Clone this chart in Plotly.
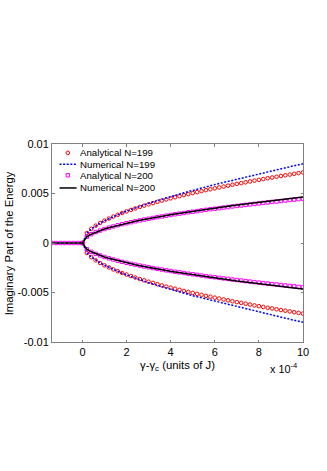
import plotly.graph_objects as go

# gamma - gamma_c in units of 1e-4 J
x_neg = [-1.4, -1.2, -1.0, -0.8, -0.6, -0.4, -0.2]
x_pos = [0.0, 0.2, 0.4, 0.6, 0.8, 1.0, 1.2, 1.4, 1.6, 1.8,
         2.0, 2.2, 2.4, 2.6, 2.8, 3.0, 3.2, 3.4, 3.6, 3.8,
         4.0, 4.2, 4.4, 4.6, 4.8, 5.0, 5.2, 5.4, 5.6, 5.8,
         6.0, 6.2, 6.4, 6.6, 6.8, 7.0, 7.2, 7.4, 7.6, 7.8,
         8.0, 8.2, 8.4, 8.6, 8.8, 9.0, 9.2, 9.4, 9.6, 9.8, 10.0]

# upper branch (units of 1e-3); lower branch is the mirror image
ana_199 = [0.00, 1.01, 1.43, 1.75, 2.02, 2.26, 2.47, 2.67, 2.85, 3.03,
           3.19, 3.34, 3.49, 3.64, 3.77, 3.91, 4.03, 4.16, 4.28, 4.40,
           4.51, 4.62, 4.73, 4.84, 4.94, 5.04, 5.14, 5.24, 5.34, 5.43,
           5.52, 5.61, 5.70, 5.79, 5.88, 5.97, 6.05, 6.13, 6.22, 6.30,
           6.38, 6.46, 6.54, 6.61, 6.69, 6.77, 6.84, 6.91, 6.99, 7.06, 7.13]
num_199 = [0.00, 0.99, 1.41, 1.73, 2.00, 2.25, 2.47, 2.67, 2.87, 3.05,
           3.22, 3.39, 3.55, 3.71, 3.86, 4.01, 4.15, 4.29, 4.43, 4.56,
           4.69, 4.82, 4.95, 5.07, 5.19, 5.32, 5.43, 5.55, 5.67, 5.78,
           5.90, 6.01, 6.12, 6.23, 6.34, 6.45, 6.56, 6.67, 6.78, 6.88,
           6.99, 7.09, 7.19, 7.30, 7.40, 7.50, 7.60, 7.70, 7.80, 7.90, 8.00]
ana_200 = [0.00, 0.63, 0.89, 1.10, 1.26, 1.41, 1.55, 1.67, 1.79, 1.90,
           2.00, 2.10, 2.19, 2.28, 2.37, 2.45, 2.53, 2.61, 2.68, 2.76,
           2.83, 2.90, 2.97, 3.03, 3.10, 3.16, 3.22, 3.29, 3.35, 3.41,
           3.46, 3.52, 3.58, 3.63, 3.69, 3.74, 3.79, 3.85, 3.90, 3.95,
           4.00, 4.05, 4.10, 4.15, 4.19, 4.24, 4.29, 4.34, 4.38, 4.43, 4.47]
num_200 = [0.00, 0.63, 0.89, 1.09, 1.26, 1.41, 1.55, 1.67, 1.79, 1.90,
           2.00, 2.10, 2.20, 2.29, 2.38, 2.46, 2.55, 2.63, 2.71, 2.78,
           2.86, 2.93, 3.00, 3.07, 3.14, 3.21, 3.28, 3.34, 3.41, 3.47,
           3.53, 3.59, 3.66, 3.72, 3.78, 3.84, 3.89, 3.95, 4.01, 4.07,
           4.12, 4.18, 4.23, 4.29, 4.34, 4.40, 4.45, 4.50, 4.55, 4.60, 4.65]

x_ticks = [0, 2, 4, 6, 8, 10]
y_ticks = [-0.01, -0.005, 0, 0.005, 0.01]
y_tick_text = ["-0.01", "-0.005", "0", "0.005", "0.01"]

FONT = "Liberation Sans, Arial, sans-serif"
RED, BLUE, MAGENTA, BLACK = "#ff0000", "#0000ff", "#ff00ff", "#000000"
DOTTED = "2px,1.6px"


def both_branches(vals):
    """upper branch + lower branch (gap between them)"""
    up = [v * 1e-3 for v in vals]
    xs = x_pos + [None] + x_pos
    ys = up + [None] + [-v for v in up]
    return xs, ys


circle_style = dict(symbol="circle-open", size=3.6, color=RED, line=dict(width=1))
square_style = dict(symbol="square-open", size=3.4, color=MAGENTA, line=dict(width=1))

fig = go.Figure()

xs, ys = both_branches(ana_199)
fig.add_trace(go.Scatter(x=xs, y=ys, mode="markers", name="Analytical N=199",
                         marker=circle_style))
xs, ys = both_branches(num_199)
fig.add_trace(go.Scatter(x=xs, y=ys, mode="lines", name="Numerical N=199",
                         line=dict(color=BLUE, width=1.5, dash=DOTTED)))
xs, ys = both_branches(ana_200)
fig.add_trace(go.Scatter(x=x_neg + xs, y=[0.0] * len(x_neg) + ys, mode="markers",
                         name="Analytical N=200", marker=square_style))
xs, ys = both_branches(num_200)
fig.add_trace(go.Scatter(x=[-1.4, 0.0], y=[0.0, 0.0], mode="lines", showlegend=False,
                         line=dict(color=BLACK, width=1.5)))
fig.add_trace(go.Scatter(x=xs, y=ys, mode="lines", name="Numerical N=200",
                         line=dict(color=BLACK, width=1.5)))

# legend drawn by hand (tighter rows than plotly's legend allows)
legend_rows = [
    ("Analytical N=199", 0.955, dict(mode="markers", marker=circle_style)),
    ("Numerical N=199", 0.898, dict(mode="lines", line=dict(color=BLUE, width=1.5, dash=DOTTED))),
    ("Analytical N=200", 0.842, dict(mode="markers", marker=square_style)),
    ("Numerical N=200", 0.778, dict(mode="lines", line=dict(color=BLACK, width=1.5))),
]
annotations = []
for label, ry, style in legend_rows:
    if style["mode"] == "markers":
        kx, ky = [0.063], [ry]
    else:
        kx, ky = [0.030, 0.098], [ry, ry]
    fig.add_trace(go.Scatter(x=kx, y=ky, xaxis="x2", yaxis="y2",
                             showlegend=False, hoverinfo="skip", **style))
    annotations.append(dict(
        x=0.104, y=ry, xref="paper", yref="paper", xanchor="left", yanchor="middle",
        text=label, showarrow=False, font=dict(family=FONT, size=9.7, color="#000"),
    ))

annotations.append(dict(
    x=-0.17, y=0.5, xref="paper", yref="paper", xanchor="center", yanchor="middle",
    text="Imaginary Part of the Energy", textangle=-90, showarrow=False,
    font=dict(family=FONT, size=11.3, color="#000"),
))
annotations.append(dict(
    x=0.5, y=-0.123, xref="paper", yref="paper", xanchor="center", yanchor="middle",
    text="γ-γ<sub>c</sub> (units of J)", showarrow=False,
    font=dict(family=FONT, size=11.3, color="#000"),
))
annotations.append(dict(
    x=0.922, y=-0.131, xref="paper", yref="paper", xanchor="center", yanchor="middle",
    text="x 10<sup>-4</sup>", showarrow=False, font=dict(family=FONT, size=10.8, color="#000"),
))

axis_common = dict(
    showline=True, linecolor="#808080", linewidth=1, mirror="ticks",
    ticks="inside", ticklen=2.5, tickcolor="#808080", tickwidth=1,
    showgrid=False, zeroline=False, automargin=False,
    tickfont=dict(family=FONT, size=11, color="#000"),
)

fig.update_layout(
    width=327, height=471,
    margin=dict(l=52, r=24, t=144, b=129),
    paper_bgcolor="white", plot_bgcolor="white",
    showlegend=False,
    font=dict(family=FONT, color="#000"),
    xaxis=dict(range=[-1.38, 10], tickvals=x_ticks, **axis_common),
    yaxis=dict(range=[-0.01, 0.01], tickvals=y_ticks, ticktext=y_tick_text, **axis_common),
    xaxis2=dict(range=[0, 1], overlaying="x", visible=False),
    yaxis2=dict(range=[0, 1], overlaying="y", visible=False),
    annotations=annotations,
)

# drop the browser's default 8px body margin so the figure sits at the page corner
fig.write_html("out.html", config={"displayModeBar": False},
               post_script="document.body.style.margin = '0';")
